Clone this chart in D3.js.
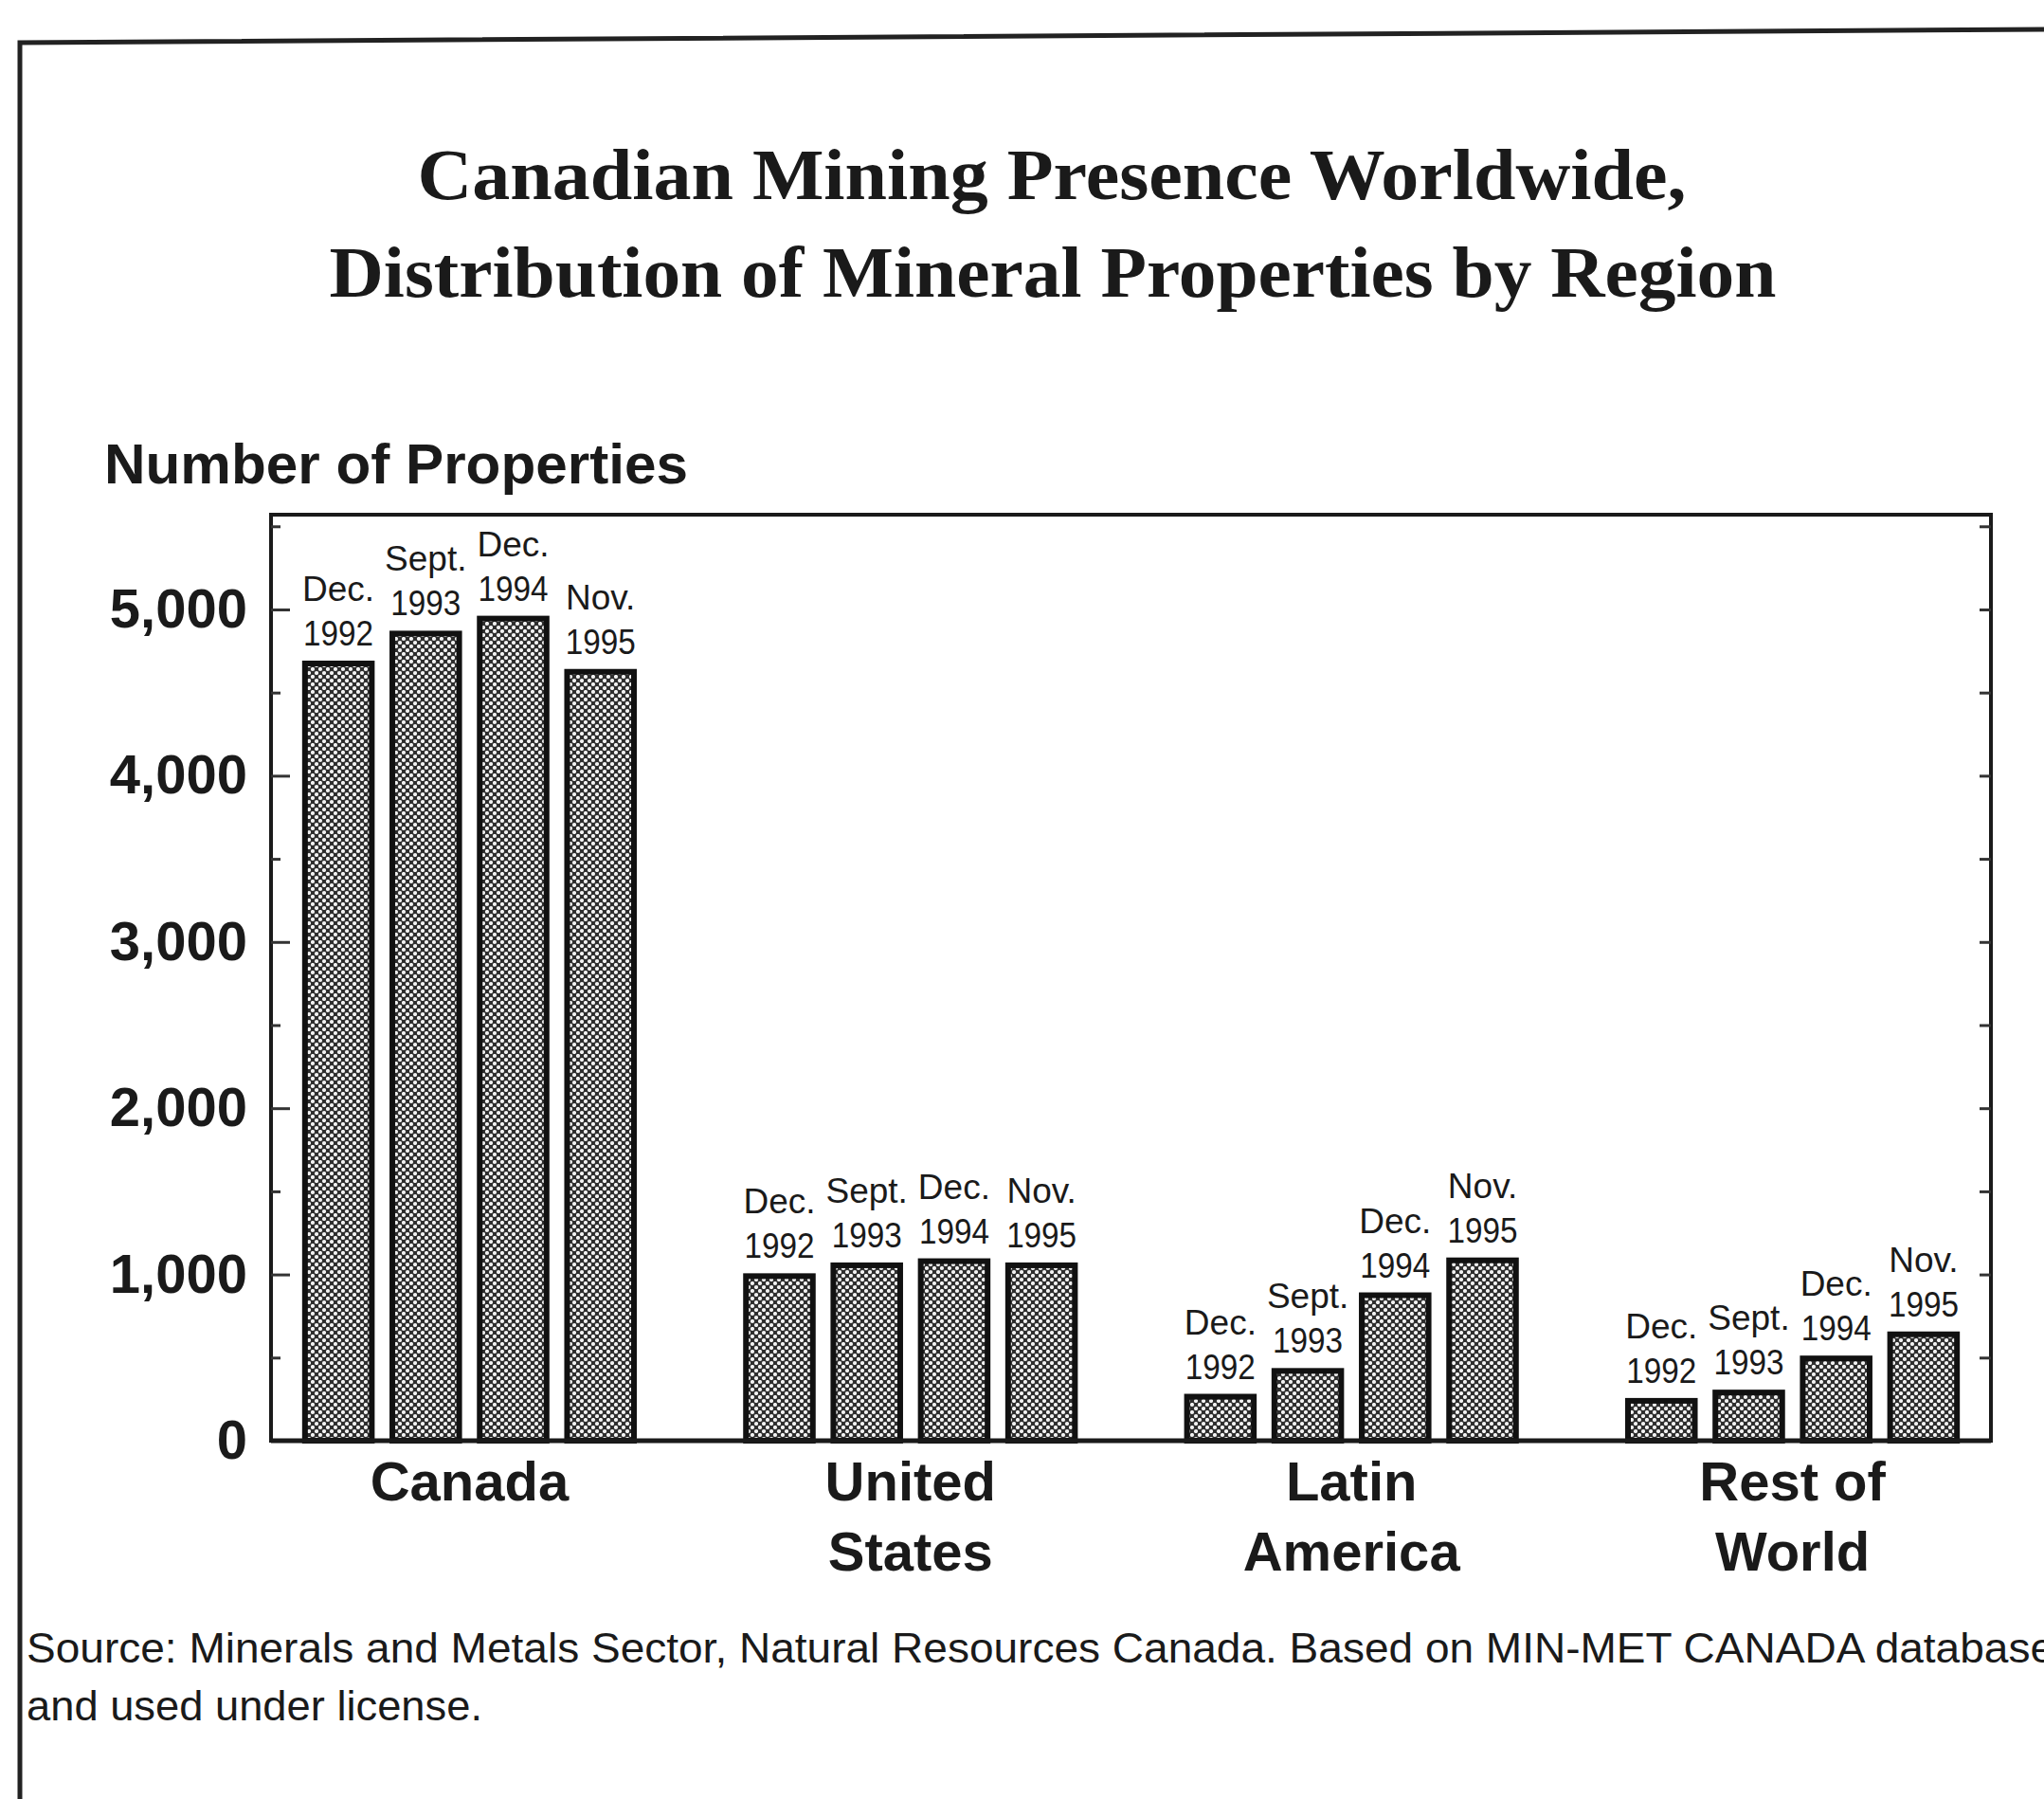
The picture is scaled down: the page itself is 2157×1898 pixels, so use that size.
<!DOCTYPE html>
<html>
<head>
<meta charset="utf-8">
<script src="https://cdn.jsdelivr.net/npm/d3@7"></script>
<style>
  html, body { margin: 0; padding: 0; background: #fff; }
  svg { display: block; }
  .sans { font-family: "Liberation Sans", Arial, Helvetica, sans-serif; }
  .serif { font-family: "Liberation Serif", "Times New Roman", serif; }
</style>
</head>
<body>
<script>
  // values
  var regions = ["Canada", "United States", "Latin America", "Rest of World"];
  var regionLines = [["Canada"], ["United", "States"], ["Latin", "America"], ["Rest of", "World"]];
  var periods = ["Dec. 1992", "Sept. 1993", "Dec. 1994", "Nov. 1995"];
  var periodLines = [["Dec.", "1992"], ["Sept.", "1993"], ["Dec.", "1994"], ["Nov.", "1995"]];
  var canada = [4675, 4855, 4945, 4625];
  var unitedStates = [990, 1055, 1080, 1055];
  var latinAmerica = [265, 420, 875, 1085];
  var restOfWorld = [240, 290, 495, 640];
  var majorTicks = [0, 1000, 2000, 3000, 4000, 5000];
  var minorTicks = [500, 1500, 2500, 3500, 4500, 5500];

  var W = 2157, H = 1898;
  var plot = {left: 286, right: 2101, top: 543, bottom: 1520};

  var series = [canada, unitedStates, latinAmerica, restOfWorld];
  var rows = [];
  regions.forEach(function(r, i){
      periods.forEach(function(p, j){
          rows.push({region: r, period: p, idx: j, value: series[i][j]});
      });
  });

  var svg = d3.select("body").append("svg")
      .attr("width", W).attr("height", H);

  // dotted screen used by the bars
  var pat = svg.append("defs").append("pattern")
      .attr("id", "screen").attr("patternUnits", "userSpaceOnUse")
      .attr("width", 8).attr("height", 8);
  pat.append("rect").attr("width", 8).attr("height", 8).attr("fill", "#2e2e2e");
  pat.append("circle").attr("cx", 2).attr("cy", 2).attr("r", 2.1).attr("fill", "#f2f2f2");
  pat.append("circle").attr("cx", 6).attr("cy", 6).attr("r", 2.1).attr("fill", "#f2f2f2");

  // page frame (scanned page edge)
  svg.append("path")
      .attr("d", "M21," + H + " L21,45 L" + W + ",31")
      .attr("fill", "none").attr("stroke", "#222").attr("stroke-width", 5);

  // title
  var title = svg.append("g").attr("class", "serif")
      .attr("font-weight", "bold").attr("font-size", 77).attr("fill", "#1a1a1a")
      .attr("text-anchor", "middle");
  title.append("text").attr("x", 1110).attr("y", 210)
      .attr("textLength", 1339).attr("lengthAdjust", "spacingAndGlyphs")
      .text("Canadian Mining Presence Worldwide,");
  title.append("text").attr("x", 1111).attr("y", 313)
      .attr("textLength", 1527).attr("lengthAdjust", "spacingAndGlyphs")
      .text("Distribution of Mineral Properties by Region");

  // y axis title
  svg.append("text").attr("class", "sans")
      .attr("x", 110).attr("y", 510)
      .attr("font-weight", "bold").attr("font-size", 59).attr("fill", "#1a1a1a")
      .attr("textLength", 616).attr("lengthAdjust", "spacingAndGlyphs")
      .text("Number of Properties");

  var y = d3.scaleLinear().domain([0, 5570]).range([plot.bottom, plot.top]);
  var x0 = d3.scaleBand().domain(regions).range([plot.left, plot.right])
      .paddingInner(0.254).paddingOuter(0.077);
  var x1 = d3.scaleBand().domain(d3.range(periods.length)).range([0, x0.bandwidth()])
      .paddingInner(0.235).paddingOuter(0);

  // plot box
  svg.append("rect")
      .attr("x", plot.left).attr("y", plot.top)
      .attr("width", plot.right - plot.left).attr("height", plot.bottom - plot.top)
      .attr("fill", "none").attr("stroke", "#1a1a1a").attr("stroke-width", 4);

  // left axis: major ticks with labels, minor ticks without
  var left = svg.append("g").attr("transform", "translate(" + plot.left + ",0)");
  left.call(d3.axisLeft(y).tickValues(majorTicks).tickSize(-20).tickPadding(25)
      .tickFormat(d3.format(",")));
  left.append("g").call(d3.axisLeft(y).tickValues(minorTicks).tickSize(-10).tickFormat(""));
  left.selectAll(".domain").remove();
  left.selectAll("line").attr("stroke", "#333").attr("stroke-width", 3);
  left.selectAll("text").attr("class", "sans")
      .attr("font-weight", "bold").attr("font-size", 58).attr("fill", "#1a1a1a");

  var right = svg.append("g").attr("transform", "translate(" + plot.right + ",0)");
  right.call(d3.axisRight(y).tickValues(majorTicks.concat(minorTicks)).tickSize(-12).tickFormat(""));
  right.selectAll(".domain").remove();
  right.selectAll("line").attr("stroke", "#333").attr("stroke-width", 3);

  // bars
  var bars = svg.append("g");
  bars.selectAll("rect").data(rows).enter().append("rect")
      .attr("x", function(d){ return x0(d.region) + x1(d.idx); })
      .attr("y", function(d){ return y(d.value); })
      .attr("width", x1.bandwidth())
      .attr("height", function(d){ return y(0) - y(d.value); })
      .attr("fill", "url(#screen)")
      .attr("stroke", "#111").attr("stroke-width", 6);

  // date labels above each bar
  var lab = svg.append("g").attr("class", "sans")
      .attr("font-size", 37).attr("fill", "#1a1a1a").attr("text-anchor", "middle");
  lab.selectAll("text").data(rows).enter().append("text")
      .attr("x", function(d){ return x0(d.region) + x1(d.idx) + x1.bandwidth() / 2; })
      .attr("y", function(d){ return y(d.value) - 66; })
      .each(function(d){
          var t = d3.select(this);
          periodLines[d.idx].forEach(function(s, k){
              t.append("tspan")
                  .attr("x", t.attr("x"))
                  .attr("dy", k ? 47 : 0)
                  .attr("textLength", k ? 74 : null)
                  .attr("lengthAdjust", "spacingAndGlyphs")
                  .text(s);
          });
      });

  // base line
  svg.append("line")
      .attr("x1", plot.left).attr("x2", plot.right)
      .attr("y1", y(0)).attr("y2", y(0))
      .attr("stroke", "#1a1a1a").attr("stroke-width", 5);

  // region labels
  var cat = svg.append("g").attr("class", "sans")
      .attr("font-weight", "bold").attr("font-size", 58).attr("fill", "#1a1a1a")
      .attr("text-anchor", "middle");
  cat.selectAll("text").data(regions).enter().append("text")
      .attr("x", function(d){ return x0(d) + x0.bandwidth() / 2; })
      .attr("y", y(0) + 63)
      .each(function(d, i){
          var t = d3.select(this);
          regionLines[i].forEach(function(s, k){
              t.append("tspan").attr("x", t.attr("x")).attr("dy", k ? 74 : 0).text(s);
          });
      });

  // source note
  var src = svg.append("g").attr("class", "sans")
      .attr("font-size", 44).attr("fill", "#1a1a1a");
  src.append("text").attr("x", 28).attr("y", 1754)
      .attr("textLength", 2140).attr("lengthAdjust", "spacingAndGlyphs")
      .text("Source: Minerals and Metals Sector, Natural Resources Canada. Based on MIN-MET CANADA  database");
  src.append("text").attr("x", 28).attr("y", 1815)
      .attr("textLength", 481).attr("lengthAdjust", "spacingAndGlyphs")
      .text("and used under license.");
</script>
</body>
</html>
